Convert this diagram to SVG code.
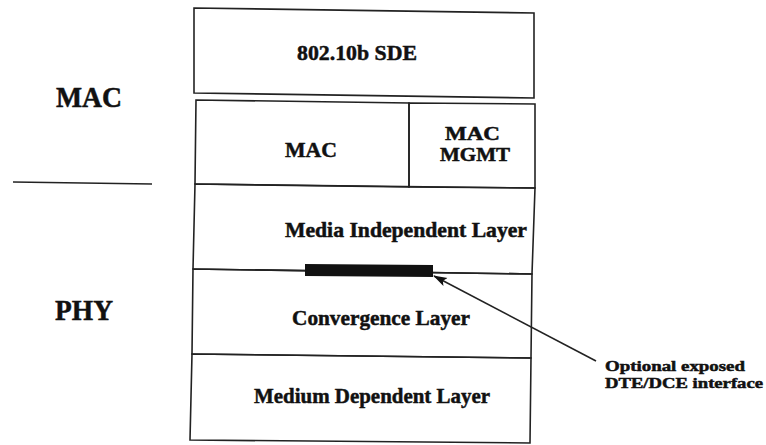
<svg xmlns="http://www.w3.org/2000/svg" width="766" height="445" viewBox="0 0 766 445">
<style>
.box{fill:none;stroke:#222;stroke-width:1.6}
.ln{fill:none;stroke:#222;stroke-width:1.6}
.t{font-family:"Liberation Serif","Times New Roman",serif;font-weight:bold;fill:#111;stroke:#111;stroke-width:0.5}
</style>
<defs>
<marker id="ah" markerWidth="14" markerHeight="10" refX="13" refY="5" orient="auto" markerUnits="userSpaceOnUse">
<path d="M0,0.5 L14,5 L0,9.5 L3,5 Z" fill="#111"/>
</marker>
</defs>
<rect width="766" height="445" fill="#fff"/>
<g id="label-mac">
<text class="t" x="56" y="107" font-size="29" textLength="66" lengthAdjust="spacingAndGlyphs">MAC</text>
</g>
<g id="mac-phy-divider">
<line class="ln" x1="13" y1="182" x2="152" y2="184"/>
</g>
<g id="label-phy">
<text class="t" x="55" y="320" font-size="29" textLength="58" lengthAdjust="spacingAndGlyphs">PHY</text>
</g>
<g id="sde">
<polygon class="box" points="194,8 534,13 534,98 194,93"/>
<text class="t" x="297" y="60" font-size="22" textLength="120" lengthAdjust="spacingAndGlyphs">802.10b SDE</text>
</g>
<g id="mac">
<polygon class="box" points="196,100 409,103 409,187 195,184"/>
<text class="t" x="285" y="157" font-size="22" textLength="52" lengthAdjust="spacingAndGlyphs">MAC</text>
</g>
<g id="mac-mgmt">
<polygon class="box" points="409,103 535,104 535,188 409,187"/>
<text class="t" x="445" y="140" font-size="19" textLength="55" lengthAdjust="spacingAndGlyphs">MAC</text>
<text class="t" x="440" y="161" font-size="19" textLength="70" lengthAdjust="spacingAndGlyphs">MGMT</text>
</g>
<g id="media-independent">
<polygon class="box" points="195,184 535,188 532,274 193,269"/>
<text class="t" x="285" y="237" font-size="21" textLength="242" lengthAdjust="spacingAndGlyphs">Media Independent Layer</text>
</g>
<g id="convergence">
<polygon class="box" points="193,269 532,274 531,358 192,354"/>
<text class="t" x="292" y="325" font-size="22" textLength="178" lengthAdjust="spacingAndGlyphs">Convergence Layer</text>
</g>
<g id="medium-dependent">
<polygon class="box" points="192,354 531,358 530,443 190,440"/>
<text class="t" x="254" y="403" font-size="22" textLength="236" lengthAdjust="spacingAndGlyphs">Medium Dependent Layer</text>
</g>
<g id="interface-bar">
<polygon points="305,264 433,265 433,277 305,276" fill="#111"/>
</g>
<g id="interface-label">
<text class="t" x="605" y="371" font-size="15" textLength="140" lengthAdjust="spacingAndGlyphs">Optional exposed</text>
<text class="t" x="605" y="388" font-size="15" textLength="158" lengthAdjust="spacingAndGlyphs">DTE/DCE interface</text>
</g>
<g id="connectors">
<line class="ln" x1="596" y1="361" x2="434" y2="276" stroke-width="2.2" marker-end="url(#ah)"/>
</g>
</svg>
